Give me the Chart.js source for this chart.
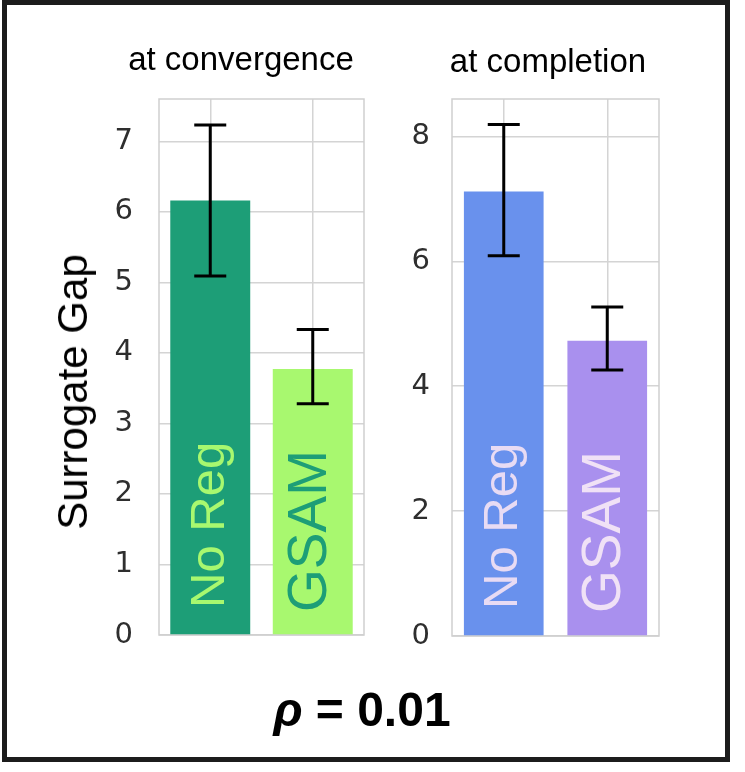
<!DOCTYPE html>
<html>
<head>
<meta charset="utf-8">
<script src="https://cdn.jsdelivr.net/npm/chart.js@4"></script>
<style>
  html, body { margin: 0; padding: 0; background: #fff; }
  #page { position: relative; width: 745px; height: 772px; overflow: hidden; }
  #frame { position: absolute; left: 2px; top: 0; width: 718px; height: 752px; border: 5px solid #1c1c1c; }
  canvas { position: absolute; top: 0; }
  #convChart { left: 0; }
  #compChart { left: 380px; }
  .subtitle {
    position: absolute; transform: translateX(-50%);
    font: 33px 'Liberation Sans', Arial, sans-serif; line-height: 1; white-space: nowrap; color: #000;
  }
  .ytitle {
    position: absolute; left: 73px; top: 392px;
    transform: translate(-50%, -50%) rotate(-90deg);
    font: 42px 'Liberation Sans', Arial, sans-serif; line-height: 1; white-space: nowrap; color: #000;
  }
  .footer {
    position: absolute; left: 362px; top: 686px; transform: translateX(-50%);
    font: bold 48px 'Liberation Sans', Arial, sans-serif; line-height: 1; white-space: nowrap; color: #000;
  }
</style>
</head>
<body>
<div id="page">
  <div id="frame"></div>
  <canvas id="convChart" width="380" height="700"></canvas>
  <canvas id="compChart" width="365" height="700"></canvas>
  <div class="subtitle" style="left:241px; top:42px;">at convergence</div>
  <div class="subtitle" style="left:548px; top:44px;">at completion</div>
  <div class="ytitle">Surrogate Gap</div>
  <div class="footer"><i>ρ</i> = 0.01</div>
</div>
<script>
const categories = ['No Reg', 'GSAM'];

// at convergence
const convValues = [6.16, 3.77];
const convErrLow = [5.09, 3.28];
const convErrHigh = [7.23, 4.33];

// at completion
const compValues = [7.12, 4.73];
const compErrLow = [6.09, 4.26];
const compErrHigh = [8.19, 5.27];

const sans = "'Liberation Sans', Arial, sans-serif";

const frame = {
    id: 'frame',
    beforeDatasetsDraw(chart) {
        const { ctx, chartArea: a } = chart;
        ctx.save();
        ctx.strokeStyle = '#cfcfcf';
        ctx.lineWidth = 1.5;
        ctx.strokeRect(a.left, a.top, a.right - a.left, a.bottom - a.top);
        ctx.restore();
    }
};

const barLabels = {
    id: 'barLabels',
    afterDatasetsDraw(chart, args, opts) {
        const { ctx } = chart;
        const y0 = chart.scales.y.getPixelForValue(0);
        const bars = chart.getDatasetMeta(0).data;
        bars.forEach((bar, i) => {
            ctx.save();
            ctx.translate(bar.x + opts.shift[i], y0 - opts.lift[i]);
            ctx.rotate(-Math.PI / 2);
            ctx.font = `${opts.sizes[i]}px ${sans}`;
            ctx.fillStyle = opts.colors[i];
            ctx.textAlign = 'left';
            ctx.textBaseline = 'middle';
            ctx.fillText(chart.data.labels[i], 0, 0);
            ctx.restore();
        });
    }
};

const errorBars = {
    id: 'errorBars',
    afterDatasetsDraw(chart, args, opts) {
        const { ctx } = chart;
        const y = chart.scales.y;
        const bars = chart.getDatasetMeta(0).data;
        ctx.save();
        ctx.strokeStyle = '#000';
        ctx.lineWidth = 3;
        bars.forEach((bar, i) => {
            const top = y.getPixelForValue(opts.high[i]);
            const bot = y.getPixelForValue(opts.low[i]);
            ctx.beginPath();
            ctx.moveTo(bar.x, top); ctx.lineTo(bar.x, bot);
            ctx.moveTo(bar.x - 16, top); ctx.lineTo(bar.x + 16, top);
            ctx.moveTo(bar.x - 16, bot); ctx.lineTo(bar.x + 16, bot);
            ctx.stroke();
        });
        ctx.restore();
    }
};

const makeChart = (id, o) => {
    const ctx = document.getElementById(id).getContext('2d');
    return new Chart(ctx, {
        type: 'bar',
        data: {
            labels: categories,
            datasets: [{
                data: o.values,
                backgroundColor: o.colors,
                borderWidth: 0,
                categoryPercentage: 1,
                barPercentage: o.barPct
            }]
        },
        options: {
            responsive: false,
            animation: false,
            events: [],
            layout: { padding: o.padding },
            plugins: {
                legend: { display: false },
                tooltip: { enabled: false },
                title: { display: false },
                errorBars: { low: o.low, high: o.high },
                barLabels: { sizes: [49, 55], colors: o.textColors, lift: [27, 23], shift: [0, -2] }
            },
            scales: {
                x: {
                    offset: true,
                    ticks: { display: false },
                    grid: { offset: false, drawTicks: false, color: '#d4d4d4', lineWidth: 1.5 },
                    border: { display: false },
                    afterFit: s => { s.height = 0; }
                },
                y: {
                    min: 0,
                    max: o.max,
                    ticks: {
                        stepSize: o.step,
                        includeBounds: false,
                        padding: o.tickPad,
                        color: '#2e2e2e',
                        font: { family: "'DejaVu Sans', sans-serif", size: 29 }
                    },
                    grid: { drawTicks: false, color: '#d4d4d4', lineWidth: 1.5 },
                    border: { display: false },
                    afterFit: s => { s.width = o.axisWidth; }
                }
            }
        },
        plugins: [frame, errorBars, barLabels]
    });
};

makeChart('convChart', {
    values: convValues, low: convErrLow, high: convErrHigh,
    colors: ['#1d9e77', '#a8f86f'],
    textColors: ['#a8f86f', '#1d9e77'],
    max: 7.6, step: 1, barPct: 0.78,
    padding: { left: 0, right: 16, top: 99, bottom: 65 },
    axisWidth: 159, tickPad: 26
});

makeChart('compChart', {
    values: compValues, low: compErrLow, high: compErrHigh,
    colors: ['#6991ed', '#a990ee'],
    textColors: ['#e8dbf4', '#f0e1f6'],
    max: 8.6, step: 2, barPct: 0.77,
    padding: { left: 0, right: 86, top: 99, bottom: 64 },
    axisWidth: 72, tickPad: 22
});
</script>
</body>
</html>
